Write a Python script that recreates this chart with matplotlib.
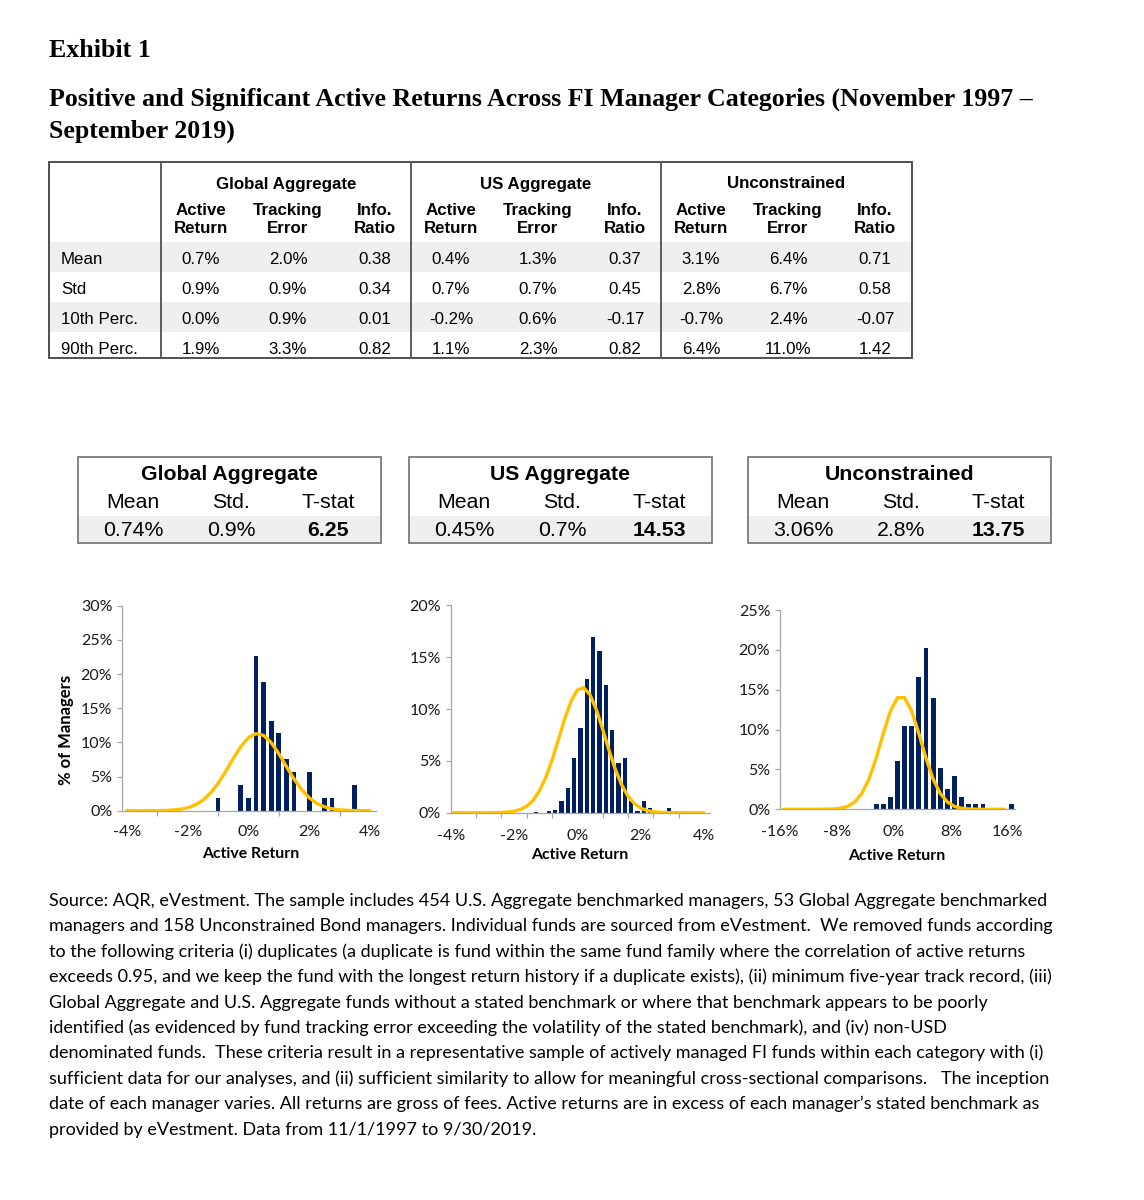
import matplotlib
matplotlib.use("Agg")
import matplotlib.pyplot as plt
import numpy as np
from matplotlib.patches import Rectangle

title_lines = ["Positive and Significant Active Returns Across FI Manager Categories (November 1997 –",
               "September 2019)"]

groups = ["Global Aggregate", "US Aggregate", "Unconstrained"]
sub_cols = ["Active\nReturn", "Tracking\nError", "Info.\nRatio"]
row_labels = ["Mean", "Std", "10th Perc.", "90th Perc."]
global_vals = [["0.7%", "2.0%", "0.38"], ["0.9%", "0.9%", "0.34"],
               ["0.0%", "0.9%", "0.01"], ["1.9%", "3.3%", "0.82"]]
us_vals = [["0.4%", "1.3%", "0.37"], ["0.7%", "0.7%", "0.45"],
           ["-0.2%", "0.6%", "-0.17"], ["1.1%", "2.3%", "0.82"]]
unc_vals = [["3.1%", "6.4%", "0.71"], ["2.8%", "6.7%", "0.58"],
            ["-0.7%", "2.4%", "-0.07"], ["6.4%", "11.0%", "1.42"]]

stat_heads = ["Mean", "Std.", "T-stat"]
stat_mean = ["0.74%", "0.45%", "3.06%"]
stat_std = ["0.9%", "0.7%", "2.8%"]
stat_t = ["6.25", "14.53", "13.75"]

# histogram: bin centres (% active return) and % of managers
glob_bins = [-1.0, -0.25, 0.0, 0.25, 0.5, 0.75, 1.0, 1.25, 1.5, 2.0, 2.5, 2.75, 3.5]
glob_pct = [1.9, 3.8, 1.9, 22.6, 18.9, 13.2, 11.3, 7.5, 5.7, 5.7, 1.9, 1.9, 3.8]
glob_curve_x = np.arange(-4.0, 4.01, 0.25)
glob_curve_y = [0, 0, 0, 0, 0.01, 0.03, 0.09, 0.20, 0.43, 0.84, 1.53, 2.56, 3.98, 5.72,
                7.61, 9.38, 10.69, 11.28, 11.02, 9.97, 8.35, 6.47, 4.65, 3.09, 1.90,
                1.08, 0.57, 0.28, 0.13, 0.05, 0.02, 0.01, 0]

us_bins = [-1.3, -0.9, -0.7, -0.5, -0.3, -0.1, 0.1, 0.3, 0.5, 0.7, 0.9, 1.1, 1.3, 1.5,
           1.7, 1.9, 2.1, 2.3, 2.9]
us_pct = [0.1, 0.15, 0.3, 1.1, 2.4, 5.3, 8.2, 12.9, 17.0, 15.6, 12.3, 8.0, 4.8, 5.3,
          1.1, 0.2, 1.1, 0.45, 0.45]
us_curve_x = np.arange(-4.0, 4.01, 0.2)
us_curve_y = [0, 0, 0, 0, 0, 0, 0, 0.01, 0.02, 0.06, 0.14, 0.31, 0.63, 1.19, 2.09, 3.38,
              5.07, 7.03, 9.04, 10.75, 11.84, 12.07, 11.39, 9.95, 8.05, 6.03, 4.18, 2.68,
              1.59, 0.88, 0.45, 0.21, 0.09, 0.04, 0.01, 0, 0, 0, 0, 0, 0]

unc_bins = [-2.5, -1.5, -0.5, 0.5, 1.5, 2.5, 3.5, 4.5, 5.5, 6.5, 7.5, 8.5, 9.5, 10.5,
            11.5, 12.5, 16.5]
unc_pct = [0.7, 0.7, 1.6, 6.0, 10.4, 10.4, 16.6, 20.2, 14.0, 5.2, 2.5, 4.2, 1.6, 0.7,
           0.7, 0.7, 0.7]
unc_curve_x = np.arange(-15.5, 15.6, 1.0)
unc_curve_y = [0, 0, 0, 0, 0, 0, 0.02, 0.04, 0.13, 0.37, 0.92, 2.0, 3.8, 6.4, 9.5, 12.3,
               14.0, 14.0, 12.3, 9.5, 6.4, 3.8, 2.0, 0.92, 0.37, 0.13, 0.04, 0.02,
               0, 0, 0, 0]

source_lines = [
    "Source: AQR, eVestment. The sample includes 454 U.S. Aggregate benchmarked managers, 53 Global Aggregate benchmarked",
    "managers and 158 Unconstrained Bond managers. Individual funds are sourced from eVestment.  We removed funds according",
    "to the following criteria (i) duplicates (a duplicate is fund within the same fund family where the correlation of active returns",
    "exceeds 0.95, and we keep the fund with the longest return history if a duplicate exists), (ii) minimum five-year track record, (iii)",
    "Global Aggregate and U.S. Aggregate funds without a stated benchmark or where that benchmark appears to be poorly",
    "identified (as evidenced by fund tracking error exceeding the volatility of the stated benchmark), and (iv) non-USD",
    "denominated funds.  These criteria result in a representative sample of actively managed FI funds within each category with (i)",
    "sufficient data for our analyses, and (ii) sufficient similarity to allow for meaningful cross-sectional comparisons.   The inception",
    "date of each manager varies. All returns are gross of fees. Active returns are in excess of each manager\u2019s stated benchmark as",
    "provided by eVestment. Data from 11/1/1997 to 9/30/2019.",
]

# ---- styling ----
SERIF = "Liberation Serif"
TABLE = "Liberation Sans"
CHART = "Lato"
NAVY = "#002060"
GOLD = "#FFC000"
SHADE = "#EFEFEF"

W, H = 1144, 1200
fig = plt.figure(figsize=(W / 100, H / 100), dpi=100)
fig.patch.set_facecolor("white")

# background axes in pixel coordinates for titles, tables and notes
bg = fig.add_axes([0, 0, 1, 1])
bg.set_xlim(0, W)
bg.set_ylim(H, 0)
bg.axis("off")

# titles
bg.text(49, 57, "Exhibit 1", family=SERIF, weight="bold", fontsize=18.6, va="baseline")
bg.text(49, 106, title_lines[0], family=SERIF, weight="bold", fontsize=18.6, va="baseline")
bg.text(49, 138, title_lines[1], family=SERIF, weight="bold", fontsize=18.6, va="baseline")

# ---- top summary table ----
tl, tr, tt, tb = 49, 912, 162, 358
group_left = [161, 411, 661]
sub_off = [40, 127, 214]
row_y = [258, 288, 318, 348]
for y0, y1 in [(242, 272), (302, 332)]:
    bg.add_patch(Rectangle((tl, y0), tr - tl, y1 - y0, facecolor=SHADE, edgecolor="none"))
bg.add_patch(Rectangle((tl, tt), tr - tl, tb - tt, facecolor="none", edgecolor="#505050", lw=1.4))
for gx in group_left:
    bg.plot([gx, gx], [tt, tb], color="#505050", lw=1.3)

all_vals = [global_vals, us_vals, unc_vals]
for g, gx in enumerate(group_left):
    bg.text(gx + 125, 184, groups[g], family=TABLE, weight="bold", fontsize=12.2,
            ha="center", va="center")
    for c, off in enumerate(sub_off):
        bg.text(gx + off, 219.5, sub_cols[c], family=TABLE, weight="bold", fontsize=12.2,
                ha="center", va="center", linespacing=1.3)
        for r, ry in enumerate(row_y):
            bg.text(gx + off, ry + 1, all_vals[g][r][c], family=TABLE, fontsize=12.2,
                    ha="center", va="center")
for r, ry in enumerate(row_y):
    bg.text(61, ry + 1, row_labels[r], family=TABLE, fontsize=12.2, ha="left", va="center")

# ---- mean / std / t-stat boxes ----
box_left = [78, 409, 748]
box_w = 303
stat_off = [55, 153, 250]
for b, bx in enumerate(box_left):
    bg.add_patch(Rectangle((bx, 516), box_w, 27, facecolor=SHADE, edgecolor="none"))
    bg.add_patch(Rectangle((bx, 457), box_w, 86, facecolor="none", edgecolor="#7A7A7A", lw=1.3))
    bg.text(bx + box_w / 2, 475, groups[b], family=TABLE, weight="bold", fontsize=15.3,
            ha="center", va="center")
    vals = [stat_mean[b], stat_std[b], stat_t[b]]
    for c, off in enumerate(stat_off):
        bg.text(bx + off, 503, stat_heads[c], family=TABLE, fontsize=15.3,
                ha="center", va="center")
        bg.text(bx + off, 531, vals[c], family=TABLE, fontsize=15.3,
                weight="bold" if c == 2 else "normal", ha="center", va="center")


# ---- histograms ----
def draw_hist(px_box, bins, pct, bar_w, cx, cy, xlim, ymax, ystep,
              major, minor, xpad, xlab_pos):
    l, t, r, b = px_box
    ax = fig.add_axes([l / W, 1 - b / H, (r - l) / W, (b - t) / H])
    ax.patch.set_alpha(0)
    ax.bar(bins, pct, width=bar_w, color=NAVY, zorder=2)
    ax.plot(cx, cy, color=GOLD, lw=2.4, zorder=3, solid_joinstyle="round",
            solid_capstyle="round")
    ax.set_xlim(*xlim)
    ax.set_ylim(0, ymax)
    for s in ["top", "right"]:
        ax.spines[s].set_visible(False)
    for s in ["left", "bottom"]:
        ax.spines[s].set_color("#A6A6A6")
        ax.spines[s].set_linewidth(0.9)
    yt = np.arange(0, ymax + 0.1, ystep)
    ax.set_yticks(yt)
    ax.set_yticklabels([f"{v:.0f}%" for v in yt])
    ax.set_xticks(major)
    ax.set_xticklabels([f"{v:.0f}%" for v in major])
    ax.set_xticks(minor, minor=True)
    ax.tick_params(axis="both", which="major", labelsize=11.5, colors="#A6A6A6",
                   labelcolor="#1a1a1a", length=3.5, width=0.9, direction="out")
    ax.tick_params(axis="x", which="major", length=0, pad=xpad)
    ax.tick_params(axis="x", which="minor", length=3.5, width=0.9, colors="#A6A6A6")
    for lab in ax.get_xticklabels() + ax.get_yticklabels():
        lab.set_family(CHART)
    bg.text(xlab_pos[0], xlab_pos[1], "Active Return", family=CHART, weight="bold",
            fontsize=11.3, ha="center", va="center")
    return ax


draw_hist((122, 605.7, 376, 810.7), glob_bins, glob_pct, 0.16, glob_curve_x, glob_curve_y,
          (-4.16, 4.2), 30, 5, [-4, -2, 0, 2, 4], np.arange(-4, 4.01, 1.0), 10.5, (251, 854))
draw_hist((450.7, 605.5, 710, 812.7), us_bins, us_pct, 0.14, us_curve_x, us_curve_y,
          (-4.0, 4.19), 20, 5, [-4, -2, 0, 2, 4], np.arange(-4, 4.01, 0.8), 12, (580, 855))
draw_hist((780, 610, 1015, 809.3), unc_bins, unc_pct, 0.68, unc_curve_x, unc_curve_y,
          (-16.0, 17.0), 25, 5, [-16, -8, 0, 8, 16], np.arange(-16, 16.1, 8), 11, (897, 856))

bg.text(66, 730, "% of Managers", family=CHART, weight="bold", fontsize=12,
        rotation=90, ha="center", va="center")

# ---- source notes ----
for i, line in enumerate(source_lines):
    bg.text(49, 906 + i * 25.4, line, family=CHART, fontsize=13, va="baseline", ha="left")

fig.savefig("out.png", dpi=100)
plt.close(fig)
